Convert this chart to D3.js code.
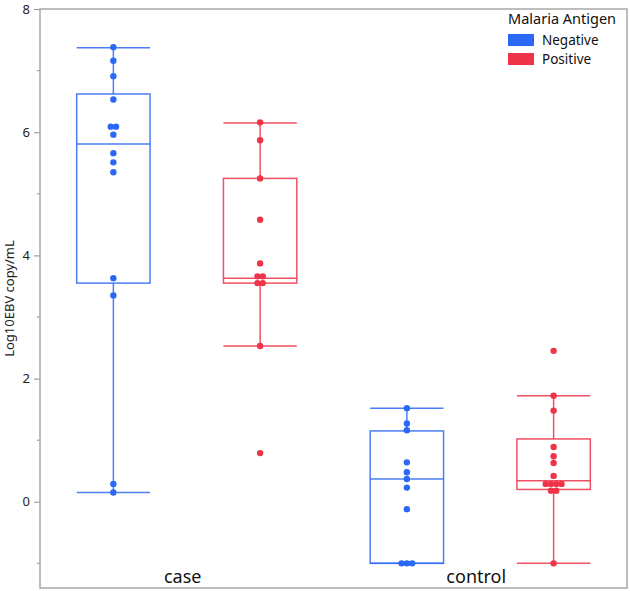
<!DOCTYPE html>
<html>
<head>
<meta charset="utf-8">
<script src="https://cdn.jsdelivr.net/npm/d3@7"></script>
<style>
  body { margin: 0; background: #fff; }
  svg { display: block; font-family: "Noto Sans", "Open Sans", sans-serif; }
</style>
</head>
<body>
<div id="chart"></div>
<script>
// groups on the x axis and the antigen subgroups
const groups = ["case", "control"]
const antigens = ["Negative", "Positive"]
const antigen_colors = ["#2b68f3", "#ef3349"]

// Log10EBV copy/mL per subject
const case_negative = [7.38, 7.16, 6.91, 6.53, 6.09, 6.09, 5.96, 5.66, 5.51, 5.35, 3.63, 3.35, 0.29, 0.15]
const case_positive = [6.16, 5.87, 5.25, 4.58, 3.87, 3.66, 3.66, 3.55, 3.55, 2.53, 0.79]
const control_negative = [1.52, 1.27, 1.16, 0.64, 0.48, 0.37, 0.23, -0.12, -1.0, -1.0, -1.0]
const control_positive = [2.45, 1.72, 1.48, 0.89, 0.74, 0.63, 0.42, 0.29, 0.29, 0.29, 0.29, 0.18, 0.18, -1.0]

// box summaries as drawn: [whisker low, q1, median, q3, whisker high]
const case_negative_box = [0.15, 3.55, 5.81, 6.62, 7.37]
const case_positive_box = [2.53, 3.55, 3.63, 5.25, 6.15]
const control_negative_box = [-1.0, -1.0, 0.37, 1.15, 1.52]
const control_positive_box = [-1.0, 0.20, 0.34, 1.02, 1.72]

const y_ticks = [0, 2, 4, 6, 8]
const y_minor_ticks = [-1, 1, 3, 5, 7]

const series = [
    { group: "case", antigen: "Negative", values: case_negative, box: case_negative_box },
    { group: "case", antigen: "Positive", values: case_positive, box: case_positive_box },
    { group: "control", antigen: "Negative", values: control_negative, box: control_negative_box },
    { group: "control", antigen: "Positive", values: control_positive, box: control_positive_box },
]

const width = 630
const height = 591
const margin = { top: 9, right: 3, bottom: 3, left: 40 }
const plot_right = width - margin.right
const plot_bottom = height - margin.bottom

const x0 = d3.scaleBand().domain(groups).range([margin.left, plot_right])
const x1 = d3.scaleBand().domain(antigens).range([0, x0.bandwidth()])
const y = d3.scaleLinear().domain([-1.4, 8]).range([plot_bottom, margin.top])
const color = d3.scaleOrdinal().domain(antigens).range(antigen_colors)

const box_width = x1.bandwidth() * 0.5
const dot_r = 3.2
const dot_step = 5.3

const svg = d3.select("#chart")
    .append("svg")
    .attr("width", width)
    .attr("height", height)

// y axis ticks and labels
const yAxis = d3.axisLeft(y).tickValues(y_ticks).tickSize(6).tickPadding(4).tickFormat(d3.format("d"))
const ax = svg.append("g")
    .attr("transform", `translate(${margin.left},0)`)
    .call(yAxis)
ax.select(".domain").remove()
ax.selectAll(".tick line").attr("stroke", "#a0a0a0").attr("stroke-width", 1.2)
ax.selectAll(".tick text").attr("fill", "#222").attr("font-size", "13px")
    .attr("font-family", "Noto Sans, sans-serif")

svg.append("g").selectAll("line")
    .data(y_minor_ticks)
    .join("line")
    .attr("x1", margin.left - 3)
    .attr("x2", margin.left)
    .attr("y1", d => y(d))
    .attr("y2", d => y(d))
    .attr("stroke", "#a0a0a0")
    .attr("stroke-width", 1.2)

svg.append("text")
    .attr("transform", `translate(14,${(margin.top + plot_bottom) / 2}) rotate(-90)`)
    .attr("text-anchor", "middle")
    .attr("font-size", "13px")
    .attr("fill", "#222")
    .text("Log10EBV copy/mL")

// boxes
const boxes = svg.append("g").selectAll("g")
    .data(series)
    .join("g")
    .attr("transform", d => `translate(${x0(d.group) + x1(d.antigen) + x1.bandwidth() / 2},0)`)
    .attr("stroke", d => color(d.antigen))
    .attr("stroke-opacity", 0.85)
    .attr("stroke-width", 1.5)
    .attr("fill", "none")

boxes.append("line")
    .attr("x1", 0).attr("x2", 0)
    .attr("y1", d => y(d.box[0]))
    .attr("y2", d => y(d.box[4]))
boxes.append("rect")
    .attr("x", -box_width / 2)
    .attr("width", box_width)
    .attr("y", d => y(d.box[3]))
    .attr("height", d => y(d.box[1]) - y(d.box[3]))
    .attr("fill", "#fff")
boxes.append("line")
    .attr("x1", -box_width / 2).attr("x2", box_width / 2)
    .attr("y1", d => y(d.box[2])).attr("y2", d => y(d.box[2]))
boxes.selectAll(".cap")
    .data(d => [d.box[0], d.box[4]])
    .join("line")
    .attr("class", "cap")
    .attr("x1", -box_width / 2).attr("x2", box_width / 2)
    .attr("y1", v => y(v)).attr("y2", v => y(v))

// points, tied values laid side by side
boxes.each(function(d) {
    const counts = d3.rollup(d.values, v => v.length, v => v)
    const seen = new Map()
    const pts = d.values.map(v => {
        const k = seen.get(v) || 0
        seen.set(v, k + 1)
        const n = counts.get(v)
        return { v, dx: (k - (n - 1) / 2) * dot_step }
    })
    d3.select(this).selectAll("circle")
        .data(pts)
        .join("circle")
        .attr("cx", p => p.dx)
        .attr("cy", p => y(p.v))
        .attr("r", dot_r)
        .attr("stroke", "none")
        .attr("fill", color(d.antigen))
})

// frame
svg.append("rect")
    .attr("x", margin.left)
    .attr("y", margin.top)
    .attr("width", plot_right - margin.left)
    .attr("height", plot_bottom - margin.top)
    .attr("fill", "none")
    .attr("stroke", "#a8a8a8")
    .attr("stroke-width", 1.5)

// x labels
svg.append("g").selectAll("text")
    .data(groups)
    .join("text")
    .attr("x", g => x0(g) + x0.bandwidth() / 2 - 4)
    .attr("y", plot_bottom - 5)
    .attr("text-anchor", "middle")
    .attr("font-size", "18px")
    .attr("fill", "#111")
    .text(g => g)

// legend
const legend = svg.append("g").attr("transform", "translate(508,0)")
legend.append("text")
    .attr("x", 0).attr("y", 24)
    .attr("font-size", "14.5px")
    .attr("fill", "#111")
    .text("Malaria Antigen")
const items = legend.selectAll(".item")
    .data(antigens)
    .join("g")
    .attr("class", "item")
    .attr("transform", (d, i) => `translate(0,${34 + i * 19})`)
items.append("rect")
    .attr("width", 26).attr("height", 12)
    .attr("fill", d => color(d))
items.append("text")
    .attr("x", 34).attr("y", 11)
    .attr("font-size", "13.5px")
    .attr("fill", "#111")
    .text(d => d)
</script>
</body>
</html>
